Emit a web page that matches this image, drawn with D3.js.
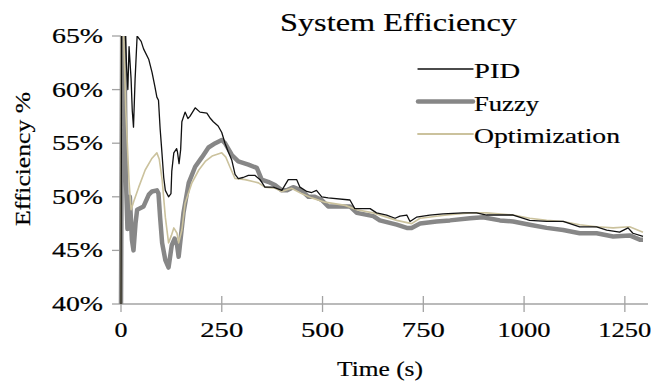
<!DOCTYPE html>
<html>
<head>
<meta charset="utf-8">
<script src="https://cdn.jsdelivr.net/npm/d3@7"></script>
<style>
  body { margin: 0; background: #fff; }
  text { font-family: "Liberation Serif", "Times New Roman", serif; fill: #000; stroke: #000; stroke-width: 0.2px; }
</style>
</head>
<body>
<svg id="chart" width="655" height="384"></svg>
<script>
// Series: [time (s), efficiency %]
var pidData = [
  [0, 40], [1.5, 66], [10, 66], [14, 62], [17, 60], [20, 64], [25, 61], [28, 58], [31, 56.5], [35, 61],
  [40, 65], [50, 64.5], [56, 63.8], [69, 62.8], [77, 61.6], [84, 60.3], [89, 59.3], [93, 59.0],
  [97, 56.4], [101, 54.4], [106, 51.8], [110, 50.6], [118, 50.0], [124, 50.3], [126, 52.4],
  [131, 54.1], [138, 54.5], [140, 54.2], [144, 53.1], [148, 54.4], [151, 57.0], [159, 57.9],
  [166, 57.3], [171, 57.5], [184, 58.3], [196, 57.9], [213, 57.8], [222, 57.3], [229, 57.0],
  [241, 56.6], [250, 56.0], [258, 55.0], [266, 54.2], [275, 53.4], [283, 52.1], [291, 51.7],
  [303, 51.8], [316, 52.0], [332, 52.0], [345, 51.6], [357, 50.9], [378, 50.9], [399, 50.6],
  [415, 51.6], [436, 51.6], [444, 50.9], [461, 50.5], [473, 50.4], [485, 50.6], [498, 50.0],
  [514, 49.9], [568, 49.7], [580, 48.9], [618, 48.9], [634, 48.5], [659, 48.3], [680, 48.0],
  [692, 48.2], [709, 48.3], [717, 47.7], [733, 48.1], [766, 48.3], [799, 48.4], [849, 48.5],
  [882, 48.5], [907, 48.3], [932, 48.3], [973, 48.3], [1014, 47.8], [1056, 47.7], [1097, 47.7],
  [1138, 47.2], [1180, 47.2], [1205, 46.9], [1237, 46.7], [1258, 47.1], [1270, 46.6], [1295, 46.3]
];

var fuzzyData = [
  [0, 40], [3, 66], [8, 66], [12, 52], [16, 47], [22, 50], [27, 46], [31, 45.0], [36, 47.5],
  [40, 48.8], [56, 49.1], [69, 50.2], [77, 50.5], [89, 50.6], [93, 50.3], [97, 48.1],
  [102, 45.7], [110, 44.1], [118, 43.4], [126, 45.5], [133, 46.1], [139, 45.5], [143, 44.4],
  [155, 48.5], [168, 51.3], [184, 52.8], [201, 53.7], [217, 54.6], [234, 55.0], [250, 55.3],
  [258, 55.0], [275, 53.9], [291, 53.3], [316, 53.0], [337, 52.7], [349, 51.6], [365, 51.4],
  [382, 51.1], [399, 50.6], [411, 50.6], [427, 50.9], [448, 50.6], [465, 50.0], [481, 50.0],
  [498, 49.7], [514, 49.1], [568, 49.1], [585, 48.5], [626, 48.2], [642, 47.8], [684, 47.4],
  [709, 47.1], [721, 47.1], [742, 47.5], [783, 47.7], [816, 47.8], [866, 48.0], [898, 48.1],
  [940, 47.8], [973, 47.7], [1014, 47.4], [1056, 47.1], [1097, 46.9], [1138, 46.6],
  [1180, 46.6], [1221, 46.3], [1262, 46.4], [1287, 46.0], [1295, 46.0]
];

var optData = [
  [0, 40], [1, 66], [6, 66], [12, 58], [20, 51.4], [25, 48.8], [32, 49.6], [44, 50.9],
  [60, 52.5], [77, 53.6], [89, 54.1], [95, 53.5], [102, 51.6], [110, 48.1], [118, 45.7],
  [125, 46.4], [131, 47.1], [139, 46.6], [143, 45.7], [151, 46.9], [159, 49.4], [176, 51.3],
  [193, 52.5], [209, 53.3], [226, 53.8], [250, 54.1], [260, 53.7], [270, 52.8], [283, 51.7],
  [308, 51.6], [341, 51.3], [357, 50.9], [382, 50.8], [399, 50.5], [423, 50.8], [448, 50.3],
  [473, 49.9], [506, 49.5], [556, 49.2], [585, 48.8], [626, 48.5], [684, 47.8], [721, 47.5],
  [742, 48.0], [808, 48.3], [866, 48.5], [907, 48.5], [973, 48.3], [1014, 48.0], [1056, 47.8],
  [1097, 47.7], [1138, 47.4], [1180, 47.2], [1221, 47.1], [1262, 47.2], [1295, 46.7]
];

var seriesNames = ["PID", "Fuzzy", "Optimization"];
var xTicks = [0, 250, 500, 750, 1000, 1250];
var yTicks = [40, 45, 50, 55, 60, 65];

var svg = d3.select("#chart");

// scales fitted to the reference axis positions
var x = d3.scaleLinear().domain([0, 1300]).range([121, 645]);
var y = d3.scaleLinear().domain([40, 65]).range([304, 36]);

var axisColor = "#a3a3a3";

// clip lines to the plot area
svg.append("defs").append("clipPath").attr("id", "plotClip")
  .append("rect")
  .attr("x", x(0) - 3).attr("y", y(65))
  .attr("width", x(1300) - x(0) + 10).attr("height", y(40) - y(65) + 2);

// y axis: line, outside ticks, labels
svg.append("line")
  .attr("x1", x(0)).attr("x2", x(0))
  .attr("y1", y(65)).attr("y2", y(40))
  .attr("stroke", axisColor).attr("stroke-width", 1.3);

yTicks.forEach(function(v) {
  svg.append("line")
    .attr("x1", x(0) - 9).attr("x2", x(0))
    .attr("y1", y(v)).attr("y2", y(v))
    .attr("stroke", axisColor).attr("stroke-width", 1.3);
  svg.append("text")
    .attr("x", 52).attr("y", y(v) + 7)
    .attr("font-size", 20)
    .attr("textLength", 51).attr("lengthAdjust", "spacingAndGlyphs")
    .text(v + "%");
});

// x axis: line, crossing ticks, labels
svg.append("line")
  .attr("x1", x(0)).attr("x2", 648)
  .attr("y1", y(40)).attr("y2", y(40))
  .attr("stroke", axisColor).attr("stroke-width", 1.3);

xTicks.forEach(function(t) {
  svg.append("line")
    .attr("x1", x(t)).attr("x2", x(t))
    .attr("y1", y(40) - 8).attr("y2", y(40) + 8)
    .attr("stroke", axisColor).attr("stroke-width", 1.3);
  var label = String(t);
  var w = label.length === 1 ? 13 : (label.length === 3 ? 43 : 53);
  svg.append("text")
    .attr("x", x(t) - w / 2).attr("y", 337)
    .attr("font-size", 20)
    .attr("textLength", w).attr("lengthAdjust", "spacingAndGlyphs")
    .text(label);
});

// axis titles
svg.append("text")
  .attr("transform", "translate(30," + 226 + ") rotate(-90)")
  .attr("font-size", 21)
  .attr("textLength", 134).attr("lengthAdjust", "spacingAndGlyphs")
  .text("Efficiency %");

svg.append("text")
  .attr("x", 337).attr("y", 376)
  .attr("font-size", 21)
  .attr("textLength", 86).attr("lengthAdjust", "spacingAndGlyphs")
  .text("Time (s)");

// chart title
svg.append("text")
  .attr("x", 280).attr("y", 31)
  .attr("font-size", 26)
  .attr("textLength", 237).attr("lengthAdjust", "spacingAndGlyphs")
  .text("System Efficiency");

// the three lines
var line = d3.line()
  .x(function(d) { return x(d[0]); })
  .y(function(d) { return y(d[1]); });

var plot = svg.append("g").attr("clip-path", "url(#plotClip)");

plot.append("path").datum(fuzzyData)
  .attr("d", line).attr("fill", "none")
  .attr("stroke", "#878787").attr("stroke-width", 4.5)
  .attr("stroke-linejoin", "round");

plot.append("path").datum(optData)
  .attr("d", line).attr("fill", "none")
  .attr("stroke", "#cbc29d").attr("stroke-width", 1.6)
  .attr("stroke-linejoin", "round");

plot.append("path").datum(pidData)
  .attr("d", line).attr("fill", "none")
  .attr("stroke", "#111").attr("stroke-width", 1.3)
  .attr("stroke-linejoin", "round");

// legend
var legendStyle = [
  { color: "#111", width: 1.3, y: 69, textW: 46 },
  { color: "#878787", width: 4.5, y: 101.5, textW: 65 },
  { color: "#cbc29d", width: 1.8, y: 134, textW: 146 }
];
seriesNames.forEach(function(name, i) {
  var s = legendStyle[i];
  svg.append("line")
    .attr("x1", 418).attr("x2", 473)
    .attr("y1", s.y).attr("y2", s.y)
    .attr("stroke", s.color).attr("stroke-width", s.width)
    .attr("stroke-linecap", "round");
  svg.append("text")
    .attr("x", 474).attr("y", s.y + 9)
    .attr("font-size", 22)
    .attr("textLength", s.textW).attr("lengthAdjust", "spacingAndGlyphs")
    .text(name);
});
</script>
</body>
</html>
